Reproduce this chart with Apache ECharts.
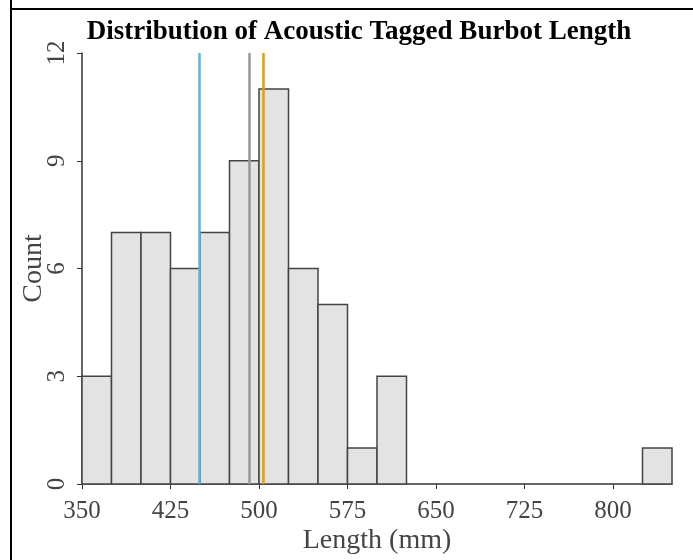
<!DOCTYPE html>
<html>
<head>
<meta charset="utf-8">
<script src="https://cdn.jsdelivr.net/npm/echarts@6/dist/echarts.min.js"></script>
<style>
  html, body { margin: 0; padding: 0; background: #fff; }
  #chart { width: 693px; height: 560px; }
</style>
</head>
<body>
<div id="chart"></div>
<script>
// histogram bins (25 mm wide) and counts
const binStarts = [350, 375, 400, 425, 450, 475, 500, 525, 550, 575, 600, 625, 650, 675, 700, 725, 750, 775, 800, 825];
const binWidth = 25;
const counts = [3, 7, 7, 6, 7, 9, 11, 6, 5, 1, 3, 0, 0, 0, 0, 0, 0, 0, 0, 1];
const xTicks = [350, 425, 500, 575, 650, 725, 800];
const yTicks = [0, 3, 6, 9, 12];
// reference lines
const refLines = [
  { value: 449, color: "#56B4E9" },
  { value: 491.5, color: "#999999" },
  { value: 503.5, color: "#E69F00" },
];

const serif = "'Liberation Serif', 'DejaVu Serif', serif";
const chart = echarts.init(document.getElementById("chart"));

const option = {
  animation: false,
  backgroundColor: "#fff",
  title: {
    text: "Distribution of Acoustic Tagged Burbot Length",
    left: 354,
    top: 14,
    textAlign: "center",
    textStyle: { fontFamily: serif, fontWeight: "bold", fontSize: 27, color: "#000" },
  },
  graphic: [
    { type: "line", shape: { x1: 11, y1: 0, x2: 11, y2: 560 }, style: { stroke: "#000", lineWidth: 2 } },
    { type: "line", shape: { x1: 10, y1: 9, x2: 693, y2: 9 }, style: { stroke: "#000", lineWidth: 2 } },
  ],
  grid: { left: 82, right: 21, top: 53, bottom: 76, outerBoundsMode: "none" },
  xAxis: {
    type: "value",
    min: 350,
    max: 850,
    interval: 75,
    name: "Length (mm)",
    nameLocation: "middle",
    nameGap: 43,
    nameMoveOverlap: false,
    nameTextStyle: { fontFamily: serif, fontSize: 28, color: "#444" },
    splitLine: { show: false },
    axisLine: { lineStyle: { color: "#333", width: 1.5 } },
    axisTick: { length: 5, lineStyle: { color: "#333" }, customValues: xTicks },
    axisLabel: { fontFamily: serif, fontSize: 25, color: "#444", margin: 15, customValues: xTicks },
  },
  yAxis: {
    type: "value",
    min: 0,
    max: 12,
    interval: 3,
    name: "Count",
    nameLocation: "middle",
    nameRotate: 90,
    nameGap: 34,
    nameMoveOverlap: false,
    nameTextStyle: { fontFamily: serif, fontSize: 28, color: "#444" },
    splitLine: { show: false },
    axisLine: { show: true, lineStyle: { color: "#333", width: 1.5 } },
    axisTick: { show: true, length: 5, lineStyle: { color: "#333" }, customValues: yTicks },
    axisLabel: { fontFamily: serif, fontSize: 25, color: "#444", rotate: 90, margin: 12, customValues: yTicks },
  },
  series: [
    {
      type: "custom",
      data: binStarts.map((s, i) => [s, s + binWidth, counts[i]]),
      encode: { x: [0, 1], y: 2 },
      renderItem: (params, api) => {
        const h = api.value(2);
        if (!h) return null;
        const p0 = api.coord([api.value(0), h]);
        const p1 = api.coord([api.value(1), 0]);
        return {
          type: "rect",
          shape: { x: p0[0], y: p0[1], width: p1[0] - p0[0], height: p1[1] - p0[1] },
          style: { fill: "#e3e3e3", stroke: "#444", lineWidth: 1.5 },
        };
      },
      markLine: {
        silent: true,
        symbol: "none",
        label: { show: false },
        data: refLines.map((l) => ({ xAxis: l.value, lineStyle: { color: l.color, width: 2.5, type: "solid" } })),
      },
    },
  ],
};

chart.setOption(option);
</script>
</body>
</html>
